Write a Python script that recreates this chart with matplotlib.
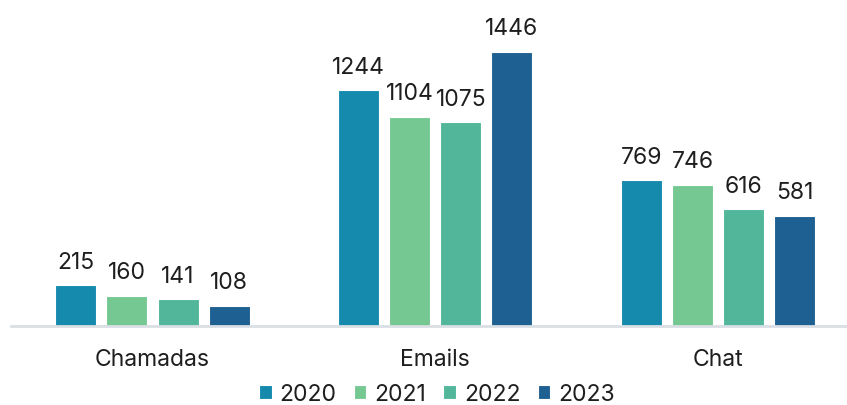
import numpy as np
import matplotlib
matplotlib.use('agg')
from matplotlib import pyplot as plt

plt.rcParams['font.family'] = ['Inter', 'DejaVu Sans']

categories = ['Chamadas', 'Emails', 'Chat']
years = ['2020', '2021', '2022', '2023']
values = {
    '2020': [215, 1244, 769],
    '2021': [160, 1104, 746],
    '2022': [141, 1075, 616],
    '2023': [108, 1446, 581],
}
colors = ['#168aad', '#76c893', '#52b69a', '#1e6091']

fig = plt.figure(figsize=(8.47, 4.06), dpi=100)
# axes: baseline at pixel y=327, line from x=11 to right edge
ax = fig.add_axes([11 / 847, (406 - 327) / 406, 836 / 847, 327 / 406])

x = np.arange(len(categories))
width = 0.145
step = 0.1804

for i, yr in enumerate(years):
    pos = x + (i - 1.5) * step
    bars = ax.bar(pos, values[yr], width, color=colors[i], edgecolor='white',
                  linewidth=0.8, label=yr, zorder=2)
    ax.bar_label(bars, padding=9, fontsize=16.5, color='#1e1e1e')

ax.set_xlim(-0.5004, 2.456)
ax.set_ylim(0, 1725)

for s in ['top', 'right', 'left']:
    ax.spines[s].set_visible(False)
ax.spines['bottom'].set_color('#d9dfe5')
ax.spines['bottom'].set_linewidth(2)
ax.spines['bottom'].set_zorder(3)

ax.set_yticks([])
ax.set_xticks(x)
ax.set_xticklabels(categories, fontsize=16.5, color='#1e1e1e')
ax.tick_params(axis='x', length=0, pad=16)

fig.legend(loc='center', bbox_to_anchor=(437 / 847, 1 - 395.5 / 406), ncol=4,
           frameon=False, fontsize=16.5, handlelength=0.55, handleheight=0.55,
           handletextpad=0.35, columnspacing=0.75, labelcolor='#1e1e1e',
           borderpad=0.1)

plt.savefig('out.png', dpi=100)
